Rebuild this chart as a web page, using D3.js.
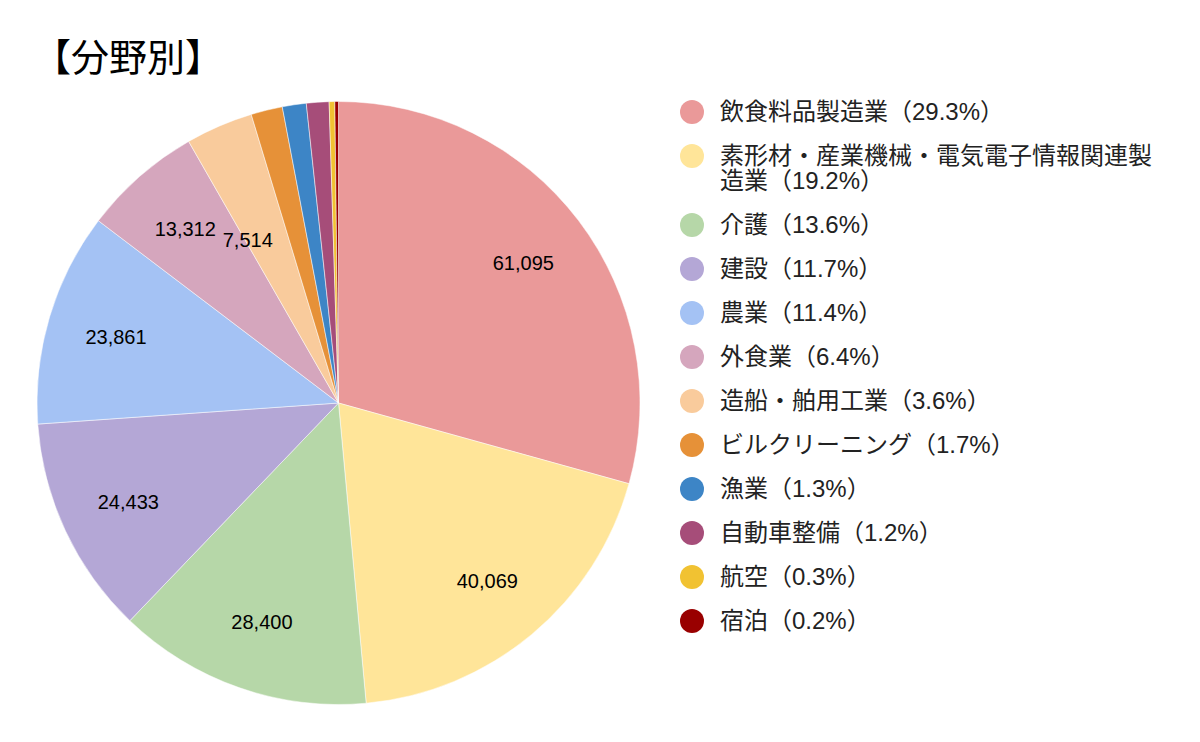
<!DOCTYPE html>
<html>
<head>
<meta charset="utf-8">
<script src="https://cdn.jsdelivr.net/npm/d3@7"></script>
<style>
  body { margin: 0; background: #fff; }
  text { font-family: "Liberation Sans", Arial, "Noto Sans CJK JP", sans-serif; }
</style>
</head>
<body>
<div id="chart"></div>
<script>
// data
const fields = ["飲食料品製造業", "素形材・産業機械・電気電子情報関連製造業", "介護", "建設", "農業",
    "外食業", "造船・舶用工業", "ビルクリーニング", "漁業", "自動車整備", "航空", "宿泊"];
const workers = [61095, 40069, 28400, 24433, 23861, 13312, 7514, 3520, 2669, 2519, 632, 401];
const colors = ["#ea9999", "#ffe599", "#b6d7a8", "#b4a7d6", "#a4c2f4", "#d5a6bd", "#f9cb9c",
    "#e69138", "#3d85c6", "#a64d79", "#f1c232", "#990000"];
const title = "【分野別】";

const width = 1200, height = 742;
const cx = 338.5, cy = 403, radius = 301.5;
const total = d3.sum(workers);
const pct = d3.format(".1%");
const num = d3.format(",");

const svg = d3.select("#chart")
    .append("svg")
    .attr("width", width)
    .attr("height", height);

svg.append("text")
    .attr("x", 33)
    .attr("y", 71)
    .attr("font-size", 38)
    .attr("fill", "#000")
    .text(title);

const chartData = fields.map((f, i) => ({ field: f, value: workers[i], color: colors[i] }));

const pie = d3.pie().sort(null).value(d => d.value);
const arcs = pie(chartData);
const arc = d3.arc().innerRadius(0).outerRadius(radius);

const g = svg.append("g").attr("transform", `translate(${cx},${cy})`);

// slices
g.selectAll("path")
    .data(arcs)
    .enter()
    .append("path")
    .attr("d", arc)
    .attr("fill", d => d.data.color)
    .attr("stroke", "#fff")
    .attr("stroke-width", 0.5);

// slice labels (only the bigger ones fit)
g.selectAll(".lbl")
    .data(arcs.filter(d => d.value / total > 0.03))
    .enter()
    .append("text")
    .attr("class", "lbl")
    .attr("transform", d => {
        const share = d.value / total;
        const r = radius * (share < 0.05 ? 0.62 : 0.77);
        const a = (d.startAngle + d.endAngle) / 2 - (share < 0.05 ? 0.1 : 0);
        return `translate(${Math.sin(a) * r},${-Math.cos(a) * r})`;
    })
    .attr("text-anchor", "middle")
    .attr("dy", "0.35em")
    .attr("font-size", 20)
    .attr("fill", "#000")
    .text(d => num(d.value));

// legend
const legend = svg.append("g");
const maxW = 440;
let y = 112;
chartData.forEach(d => {
    const label = `${d.field}（${pct(d.value / total)}）`;
    const item = legend.append("g");
    item.append("circle")
        .attr("cx", 692)
        .attr("cy", y)
        .attr("r", 12)
        .attr("fill", d.color);
    const t = item.append("text")
        .attr("x", 720)
        .attr("y", y)
        .attr("font-size", 24)
        .attr("fill", "#222");

    // wrap by characters
    let lines = [];
    let cur = "";
    const probe = t.append("tspan");
    for (const ch of label) {
        probe.text(cur + ch);
        if (probe.node().getComputedTextLength() > maxW && cur) {
            lines.push(cur);
            cur = ch;
        } else {
            cur += ch;
        }
    }
    lines.push(cur);
    probe.remove();
    lines.forEach((ln, i) => {
        t.append("tspan")
            .attr("x", 720)
            .attr("dy", i === 0 ? "0.35em" : 25)
            .text(ln);
    });
    y += 44 + (lines.length - 1) * 25;
});
</script>
</body>
</html>
